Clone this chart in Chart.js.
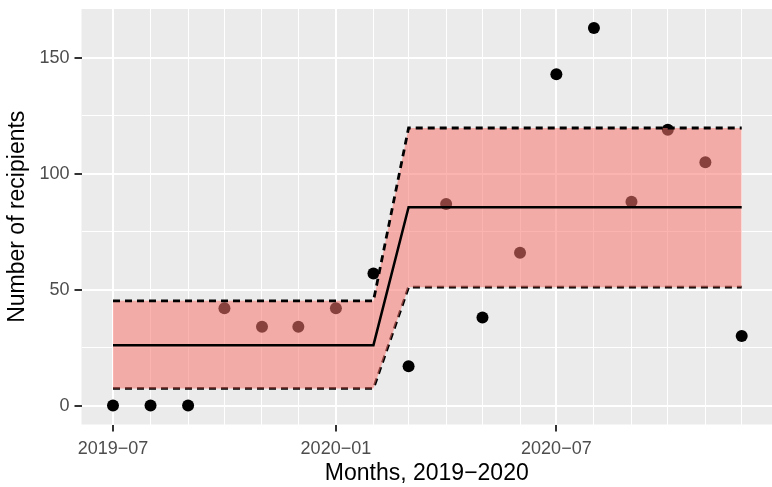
<!DOCTYPE html>
<html>
<head>
<meta charset="utf-8">
<script src="https://cdn.jsdelivr.net/npm/chart.js@4"></script>
<style>
  body { margin: 0; background: #fff; }
  #wrap { width: 772px; height: 487px; }
</style>
</head>
<body>
<div id="wrap"><canvas id="recipientsChart" width="772" height="487"></canvas></div>
<script>
// Monthly data, 2019-07 .. 2020-12
const months = [
  "2019-07", "2019-08", "2019-09", "2019-10", "2019-11", "2019-12",
  "2020-01", "2020-02", "2020-03", "2020-04", "2020-05", "2020-06",
  "2020-07", "2020-08", "2020-09", "2020-10", "2020-11", "2020-12"
];
const recipients = [0, 0, 0, 42, 34, 34, 42, 57, 17, 87, 38, 66, 143, 163, 88, 119, 105, 30];
const fitMean  = [26.1, 26.1, 26.1, 26.1, 26.1, 26.1, 26.1, 26.1, 85.6, 85.6, 85.6, 85.6, 85.6, 85.6, 85.6, 85.6, 85.6, 85.6];
const fitUpper = [45.2, 45.2, 45.2, 45.2, 45.2, 45.2, 45.2, 45.2, 119.8, 119.8, 119.8, 119.8, 119.8, 119.8, 119.8, 119.8, 119.8, 119.8];
const fitLower = [7.4, 7.4, 7.4, 7.4, 7.4, 7.4, 7.4, 7.4, 51.1, 51.1, 51.1, 51.1, 51.1, 51.1, 51.1, 51.1, 51.1, 51.1];
const xTickLabels = { "2019-07": "2019\u221207", "2020-01": "2020\u221201", "2020-07": "2020\u221207" };
const yTicks = [0, 25, 50, 75, 100, 125, 150];
const yTickLabels = [0, 50, 100, 150];

// days since first month, so the x axis is a real time axis
const origin = Date.UTC(2019, 6, 1);
function toDay(m) {
  const [y, mo] = m.split("-").map(Number);
  return Math.round((Date.UTC(y, mo - 1, 1) - origin) / 86400000);
}
const monthDays = months.map(toDay);
const dayLabel = {};
months.forEach((m, i) => { if (xTickLabels[m]) dayLabel[monthDays[i]] = xTickLabels[m]; });

const pts = arr => arr.map((v, i) => ({ x: monthDays[i], y: v }));

const panelBg = {
  id: "panelBg",
  beforeDraw(chart) {
    const { ctx, chartArea: a } = chart;
    ctx.save();
    ctx.fillStyle = "#EBEBEB";
    ctx.fillRect(a.left, a.top, a.right - a.left, a.bottom - a.top);
    ctx.restore();
  }
};

const font = "'Liberation Sans', Arial, sans-serif";
const ctx = document.getElementById("recipientsChart").getContext("2d");

new Chart(ctx, {
  type: "scatter",
  data: {
    datasets: [
      {
        label: "upper",
        type: "line",
        data: pts(fitUpper),
        borderColor: "#000",
        borderWidth: 2.8,
        borderDash: [7, 5],
        pointRadius: 0,
        tension: 0,
        fill: "+1",
        backgroundColor: "rgba(248, 118, 109, 0.55)",
        order: 1
      },
      {
        label: "lower",
        type: "line",
        data: pts(fitLower),
        borderColor: "#000",
        borderWidth: 2.8,
        borderDash: [7, 5],
        pointRadius: 0,
        tension: 0,
        fill: false,
        order: 1
      },
      {
        label: "mean",
        type: "line",
        data: pts(fitMean),
        borderColor: "#000",
        borderWidth: 2.5,
        pointRadius: 0,
        tension: 0,
        fill: false,
        order: 0
      },
      {
        label: "Recipients",
        data: pts(recipients),
        backgroundColor: "#000",
        borderWidth: 0,
        pointRadius: 6,
        order: 3
      }
    ]
  },
  options: {
    responsive: false,
    animation: false,
    layout: { autoPadding: false, padding: { top: 9, right: 0, left: 0, bottom: 0 } },
    plugins: {
      legend: { display: false },
      tooltip: { enabled: false }
    },
    scales: {
      x: {
        type: "linear",
        min: -26,
        max: 544,
        afterBuildTicks: s => { s.ticks = monthDays.map(v => ({ value: v })); },
        afterFit: s => { s.height = 62.5; s.paddingLeft = 0; s.paddingRight = 0; },
        border: { display: false },
        grid: {
          color: "#fff",
          lineWidth: c => (c.tick && dayLabel[c.tick.value] ? 2 : 1),
          tickColor: c => (c.tick && dayLabel[c.tick.value] ? "#333" : "rgba(0,0,0,0)"),
          tickLength: 7,
          tickWidth: 2
        },
        ticks: {
          autoSkip: false,
          maxRotation: 0,
          padding: 7,
          color: "#4D4D4D",
          font: { family: font, size: 18 },
          callback: v => dayLabel[v] || ""
        },
        title: {
          display: true,
          text: "Months, 2019\u22122020",
          color: "#000",
          font: { family: font, size: 23 },
          padding: { top: 0, bottom: 0 }
        }
      },
      y: {
        min: -8.15,
        max: 171.15,
        afterBuildTicks: s => { s.ticks = yTicks.map(v => ({ value: v })); },
        afterFit: s => { s.width = 81.5; s.paddingTop = 0; s.paddingBottom = 0; },
        border: { display: false },
        grid: {
          color: "#fff",
          lineWidth: c => (c.tick && yTickLabels.includes(c.tick.value) ? 2 : 1),
          tickColor: c => (c.tick && yTickLabels.includes(c.tick.value) ? "#333" : "rgba(0,0,0,0)"),
          tickLength: 7,
          tickWidth: 2
        },
        ticks: {
          padding: 5,
          color: "#4D4D4D",
          font: { family: font, size: 18 },
          callback: v => (yTickLabels.includes(v) ? String(v) : "")
        },
        title: {
          display: true,
          text: "Number of recipients",
          color: "#000",
          font: { family: font, size: 23 },
          padding: { top: 4, bottom: 0 }
        }
      }
    }
  },
  plugins: [panelBg]
});
</script>
</body>
</html>
